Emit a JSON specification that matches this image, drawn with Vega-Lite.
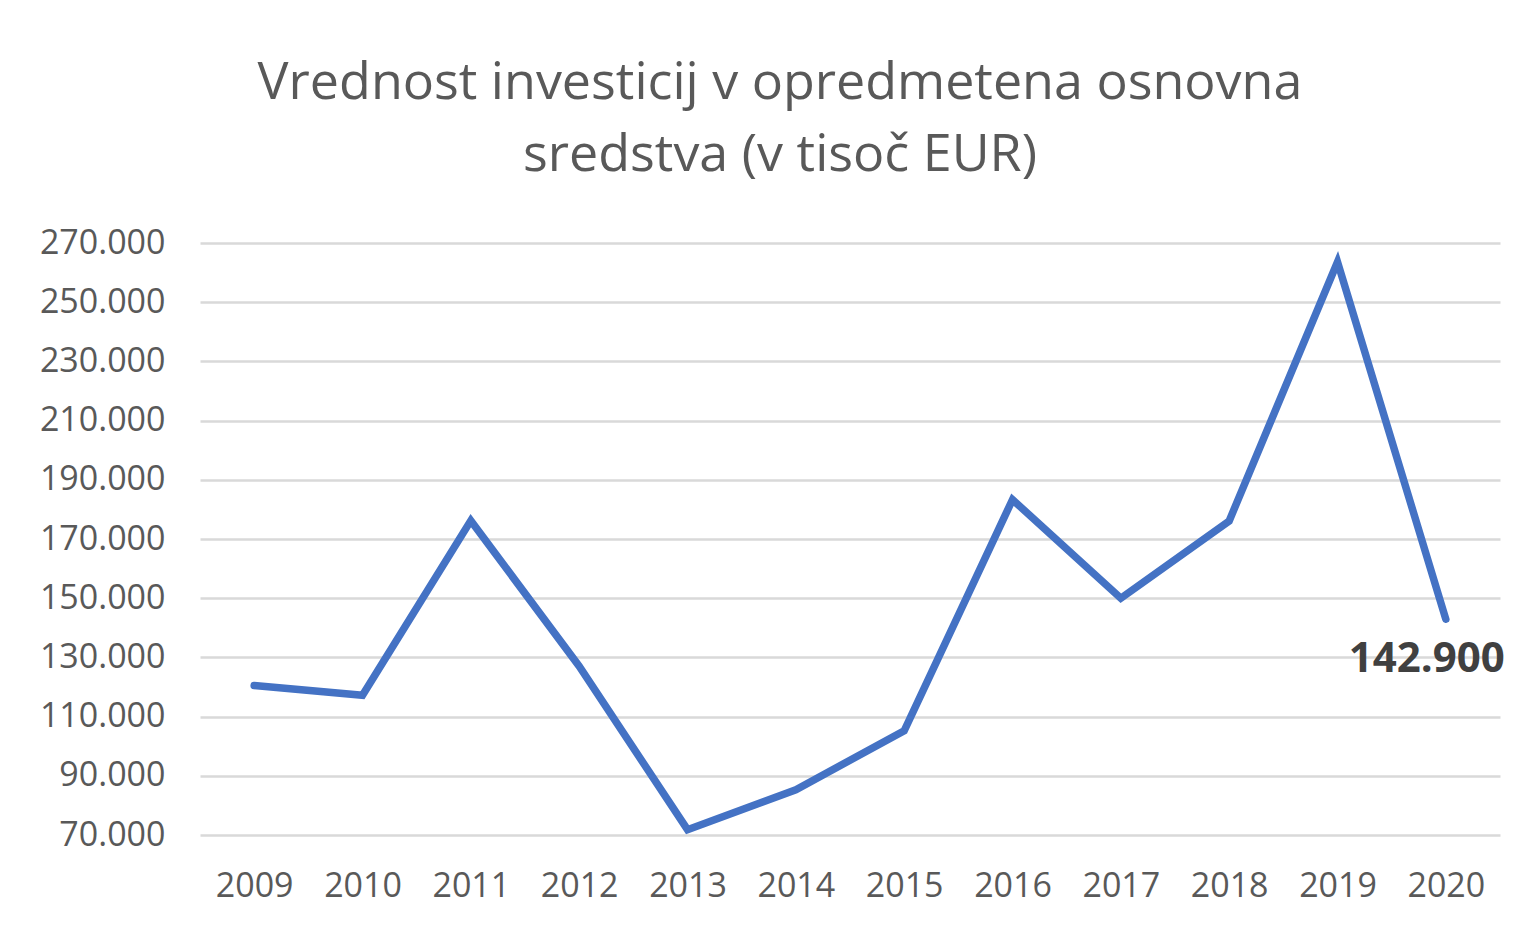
{
  "$schema": "https://vega.github.io/schema/vega-lite/v6.json",
  "width": 1300,
  "height": 592,
  "autosize": {"type": "none"},
  "padding": {"left": 200, "top": 243, "right": 30, "bottom": 93},
  "background": "white",
  "title": {
    "text": ["Vrednost investicij v opredmetena osnovna", "sredstva (v tisoč EUR)"],
    "fontSize": 52,
    "font": "Open Sans",
    "fontWeight": "normal",
    "color": "#595959",
    "lineHeight": 72,
    "anchor": "middle",
    "dx": -70,
    "offset": 44
  },
  "data": {
    "values": [
      {"year": "2009", "value": 120500},
      {"year": "2010", "value": 117200},
      {"year": "2011", "value": 176200},
      {"year": "2012", "value": 127000},
      {"year": "2013", "value": 71800},
      {"year": "2014", "value": 85300},
      {"year": "2015", "value": 105200},
      {"year": "2016", "value": 183300},
      {"year": "2017", "value": 150000},
      {"year": "2018", "value": 176100},
      {"year": "2019", "value": 263600},
      {"year": "2020", "value": 142900}
    ]
  },
  "encoding": {
    "x": {
      "field": "year",
      "type": "ordinal",
      "scale": {"type": "point", "padding": 0.5},
      "axis": {
        "title": null,
        "labelAngle": 0,
        "ticks": false,
        "domain": false,
        "grid": false,
        "labelFontSize": 34,
        "labelFont": "Open Sans",
        "labelColor": "#595959",
        "labelPadding": 34
      }
    },
    "y": {
      "field": "value",
      "type": "quantitative",
      "scale": {"domain": [70000, 270000], "nice": false, "zero": false},
      "axis": {
        "title": null,
        "values": [70000, 90000, 110000, 130000, 150000, 170000, 190000, 210000, 230000, 250000, 270000],
        "format": ",.0f",
        "ticks": false,
        "domain": false,
        "grid": true,
        "gridColor": "#d9d9d9",
        "gridWidth": 2.5,
        "labelFontSize": 34,
        "labelFont": "Open Sans",
        "labelColor": "#595959",
        "labelPadding": 35
      }
    }
  },
  "layer": [
    {
      "mark": {"type": "line", "color": "#4472C4", "strokeWidth": 7.5, "strokeCap": "round", "strokeJoin": "miter"}
    },
    {
      "transform": [{"filter": "datum.year == '2020'"}],
      "mark": {"type": "text", "font": "Open Sans", "fontSize": 42, "fontWeight": "bold", "color": "#404040", "dy": 40, "dx": -19, "align": "center", "baseline": "middle"},
      "encoding": {"text": {"field": "value", "type": "quantitative", "format": ",.0f"}}
    }
  ],
  "config": {
    "view": {"stroke": null},
    "locale": {"number": {"decimal": ",", "thousands": ".", "grouping": [3], "currency": ["", " €"]}}
  }
}
